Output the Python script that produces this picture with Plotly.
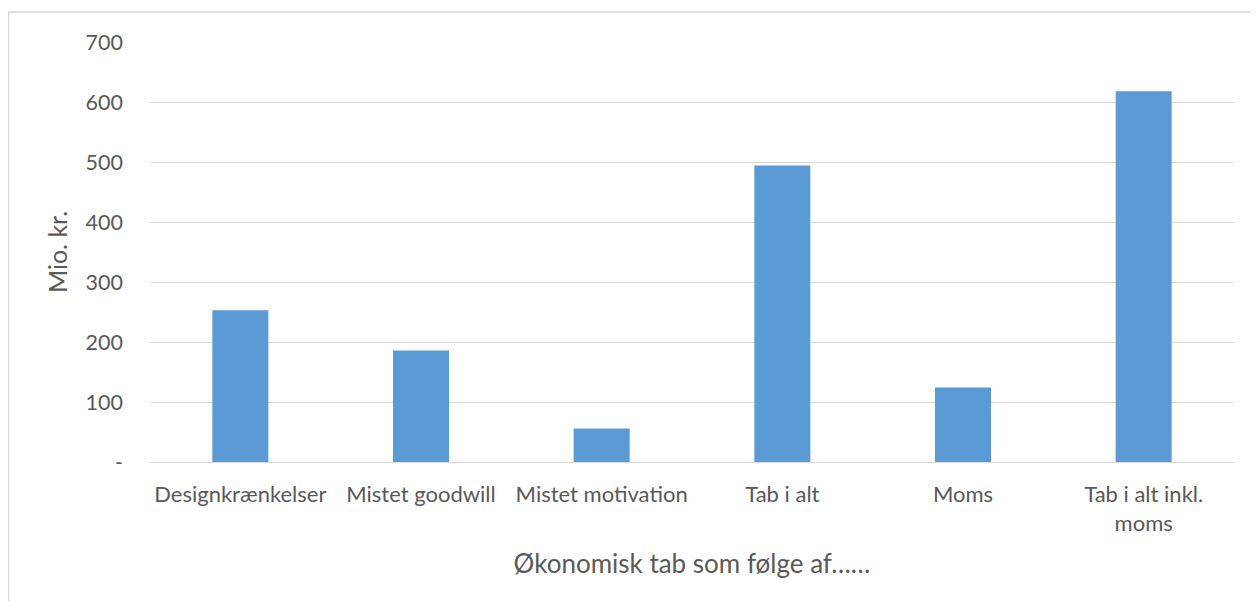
import plotly.graph_objects as go

categories = ["Designkrænkelser", "Mistet goodwill", "Mistet motivation", "Tab i alt", "Moms", "Tab i alt inkl.<br>moms"]
values = [253, 186, 56, 494, 124, 618]
y_tickvals = [0, 100, 200, 300, 400, 500, 600, 700]
y_ticktext = ["-", "100", "200", "300", "400", "500", "600", "700"]

OFF = 8  # page body margin
W, H = 1259 - OFF, 601 - OFF
L, T = 150 - OFF, 42 - OFF
R = W - (1234 - OFF)
B = H - (462 - OFF)
pw, ph = W - L - R, H - T - B

def px_x(x):
    return (x - OFF - L) / pw

def px_y(y):
    return (H - B - (y - OFF)) / ph

fig = go.Figure(go.Bar(x=categories, y=values, marker_color="#5b9bd5",
                       marker_line_width=0))

font = "Lato, 'Open Sans', sans-serif"
fig.update_layout(
    width=W, height=H,
    margin=dict(l=L, r=R, t=T, b=B),
    paper_bgcolor="white", plot_bgcolor="white",
    bargap=0.69,
    showlegend=False,
    font=dict(family=font, color="#595959", size=22),
    xaxis=dict(showgrid=False, showline=True, linecolor="#d9d9d9", linewidth=1,
               tickfont=dict(size=22, color="#595959"), ticks="", tickangle=0,
               ticklabelstandoff=13,
               title=dict(text="Økonomisk tab som følge af……", font=dict(size=26, color="#595959"),
                          standoff=19)),
    yaxis=dict(range=[0, 700], tickvals=y_tickvals, ticktext=y_ticktext,
               showgrid=True, gridcolor="#d9d9d9", gridwidth=1, zeroline=False,
               showline=False, ticks="", ticklabelstandoff=26,
               tickfont=dict(size=21.5, color="#595959"),
               title=dict(text="Mio. kr.", font=dict(size=25, color="#595959"), standoff=10)),
    shapes=[dict(type="rect", xref="paper", yref="paper",
                 x0=px_x(8.5), x1=px_x(1265), y0=px_y(610), y1=px_y(12),
                 line=dict(color="#d9d9d9", width=1.5), layer="below")],
)

fig.write_html("out.html")
